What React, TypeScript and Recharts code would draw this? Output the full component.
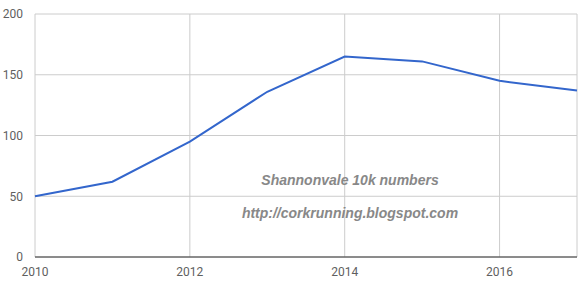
import { LineChart, Line, XAxis, YAxis, CartesianGrid } from 'recharts';

const years = [2010, 2011, 2012, 2013, 2014, 2015, 2016, 2017];
const runners = [50, 62, 95, 136, 165, 161, 145, 137];
const xTicks = [2010, 2012, 2014, 2016];
const yTicks = [0, 50, 100, 150, 200];
const notes = ['Shannonvale 10k numbers', 'http://corkrunning.blogspot.com'];

const data = years.map((year, i) => ({ year, runners: runners[i] }));

export default function App() {
  return (
    <div style={{ position: 'absolute', left: 0, top: 0, width: 580, height: 287, background: '#fff' }}>
      <LineChart width={580} height={287} data={data} margin={{ top: 14, right: 3, bottom: 0, left: 0 }}>
        <CartesianGrid stroke="#cccccc" />
        <XAxis
          dataKey="year"
          type="number"
          domain={[2010, 2017]}
          ticks={xTicks}
          stroke="#333"
          tickLine={false}
          tick={{ fill: '#5f5f5f', fontSize: 12, fontFamily: 'Roboto' }}
          height={30}
          tickMargin={4}
        />
        <YAxis
          domain={[0, 200]}
          ticks={yTicks}
          axisLine={false}
          tickLine={false}
          width={35}
          tickMargin={6}
          tick={{ fill: '#5f5f5f', fontSize: 12, fontFamily: 'Roboto' }}
        />
        <Line type="linear" dataKey="runners" stroke="#3366cc" strokeWidth={2} dot={false} isAnimationActive={false} />
      </LineChart>

      {/* Overlaid captions */}
      {notes.map((t, i) => (
        <div
          key={t}
          style={{
            position: 'absolute',
            left: 230,
            width: 240,
            top: 172 + i * 33,
            textAlign: 'center',
            fontFamily: '"Liberation Sans", Arial, sans-serif',
            fontWeight: 'bold',
            fontStyle: 'italic',
            fontSize: 14,
            color: '#888',
          }}
        >
          {t}
        </div>
      ))}
    </div>
  );
}
